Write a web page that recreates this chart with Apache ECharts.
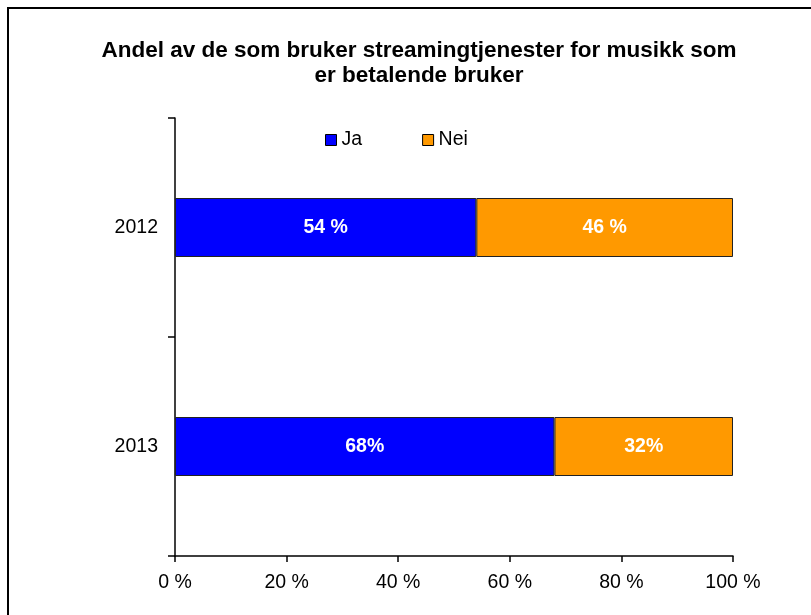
<!DOCTYPE html>
<html>
<head>
<meta charset="utf-8">
<script src="https://cdn.jsdelivr.net/npm/echarts@6/dist/echarts.min.js"></script>
<style>
  html, body { margin: 0; padding: 0; background: #fff; }
  #chart { width: 811px; height: 615px; }
</style>
</head>
<body>
<div id="chart"></div>
<script>
const years = ['2012', '2013']
const jaValues = [54, 68]
const neiValues = [46, 32]
// etikettene står ulikt i originalen (med og uten mellomrom)
const jaLabels = ['54 %', '68%']
const neiLabels = ['46 %', '32%']
const xTicks = [0, 20, 40, 60, 80, 100]

const myChart = echarts.init(document.getElementById('chart'))

const fontFamily = 'Liberation Sans, Arial, sans-serif'

const option = {
  animation: false,
  textStyle: { fontFamily: fontFamily },
  title: {
    text: 'Andel av de som bruker streamingtjenester for musikk som\ner betalende bruker',
    left: 419,
    textAlign: 'center',
    top: 38,
    padding: 0,
    textStyle: {
      fontSize: 22.5,
      fontWeight: 'bold',
      color: '#000',
      lineHeight: 25,
      fontFamily: fontFamily
    }
  },
  graphic: [
    {
      type: 'rect',
      shape: { x: 8, y: 8, width: 900, height: 700 },
      style: { fill: 'none', stroke: '#000', lineWidth: 2 },
      silent: true
    }
  ],
  legend: {
    data: ['Ja', 'Nei'],
    left: 325,
    top: 130,
    padding: 0,
    itemWidth: 11,
    itemHeight: 11,
    itemGap: 60,
    icon: 'rect',
    textStyle: { fontSize: 19.5, color: '#000', padding: [2, 0, 0, 0] },
    itemStyle: { borderColor: '#000', borderWidth: 1 }
  },
  grid: {
    left: 175,
    right: 78,
    top: 118,
    bottom: 59
  },
  xAxis: {
    type: 'value',
    min: 0,
    max: 100,
    interval: 20,
    axisLine: { show: true, lineStyle: { color: '#000', width: 1.5 } },
    axisTick: { show: true, length: 6, lineStyle: { color: '#000', width: 1.5 } },
    splitLine: { show: false },
    axisLabel: {
      fontSize: 19.5,
      color: '#000',
      margin: 17,
      formatter: (v) => xTicks.includes(v) ? v + ' %' : ''
    }
  },
  yAxis: {
    type: 'category',
    data: years,
    inverse: true,
    axisLine: { show: true, lineStyle: { color: '#000', width: 1.5 } },
    axisTick: { show: true, length: 7, lineStyle: { color: '#000', width: 1.5 } },
    axisLabel: { fontSize: 19.5, color: '#000', margin: 17 }
  },
  series: [
    {
      name: 'Ja',
      type: 'bar',
      stack: 'total',
      barWidth: 59,
      data: jaValues,
      itemStyle: { color: '#0000FF', borderColor: '#222', borderWidth: 1 },
      label: {
        show: true,
        position: 'inside',
        color: '#fff',
        fontSize: 19.5,
        fontWeight: 'bold',
        formatter: (p) => jaLabels[p.dataIndex]
      }
    },
    {
      name: 'Nei',
      type: 'bar',
      stack: 'total',
      barWidth: 59,
      data: neiValues,
      itemStyle: { color: '#FF9900', borderColor: '#222', borderWidth: 1 },
      label: {
        show: true,
        position: 'inside',
        color: '#fff',
        fontSize: 19.5,
        fontWeight: 'bold',
        formatter: (p) => neiLabels[p.dataIndex]
      }
    }
  ]
}

myChart.setOption(option)
</script>
</body>
</html>
